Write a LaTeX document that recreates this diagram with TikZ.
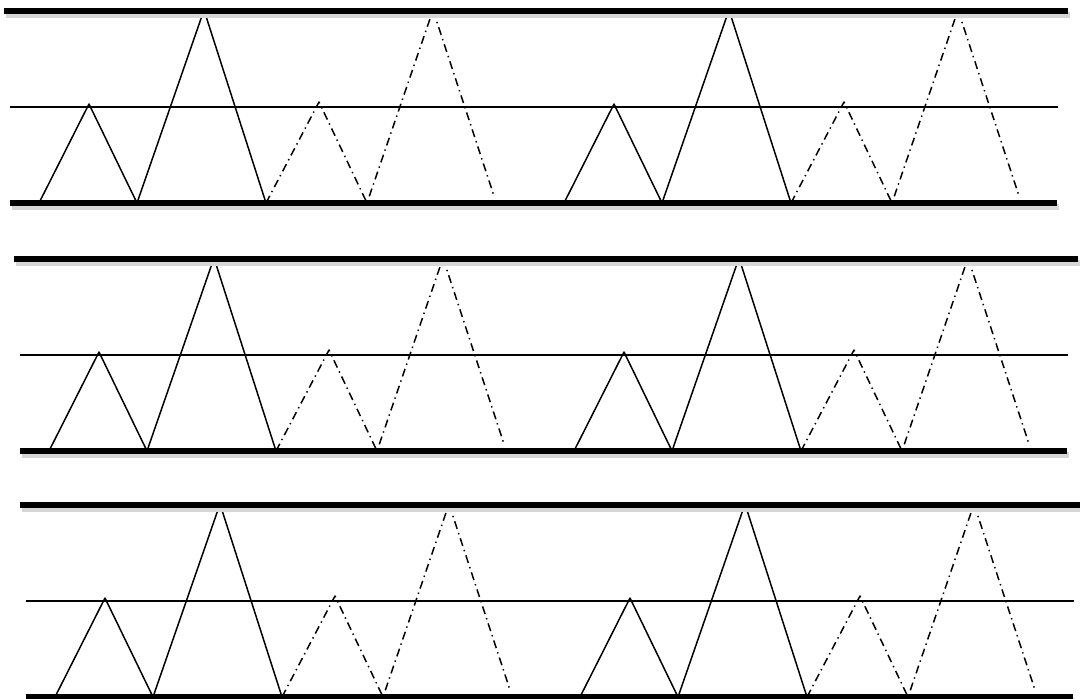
\documentclass[tikz,border=0pt]{standalone}
\usepackage{tikz}
\usetikzlibrary{calc}
\tikzset{
  rail/.style={draw=black, line width=3.1pt},
  railshade/.style={draw=black!16, line width=3.8pt},
  level/.style={draw=black, line width=0.7pt},
  wave/.style={draw=black, line width=0.85pt, line join=round},
  echo/.style={draw=black, line width=0.85pt, line join=round, dash pattern=on 4.6pt off 2.4pt on 0.8pt off 2.4pt},
}
\begin{document}
\begin{tikzpicture}[x=0.02cm, y=-0.02cm]
\useasboundingbox (0,0) rectangle (1080,699);
\foreach \dx/\dy in {0/0, 10/248, 16/494}{
  \begin{scope}[shift={(\dx,\dy)}]
    % two copies of the zigzag per band
    \foreach \ox in {0,525}{
      \draw[wave] (39+\ox,203) -- (89+\ox,104) -- (137+\ox,203) -- (204+\ox,10) -- (266+\ox,203);
      \draw[echo] (266+\ox,203) -- (319+\ox,102) -- (367+\ox,203) -- (433+\ox,10) -- (494+\ox,196);
    }
    % middle level
    \draw[level] (10,107) -- (1058,107);
    % rails with their shade
    \draw[railshade] (6,15) -- (1070,15);
    \draw[railshade] (12,207) -- (1059,207);
    \draw[rail] (4,11) -- (1068,11);
    \draw[rail] (10,203) -- (1057,203);
  \end{scope}
}
\end{tikzpicture}
\end{document}
